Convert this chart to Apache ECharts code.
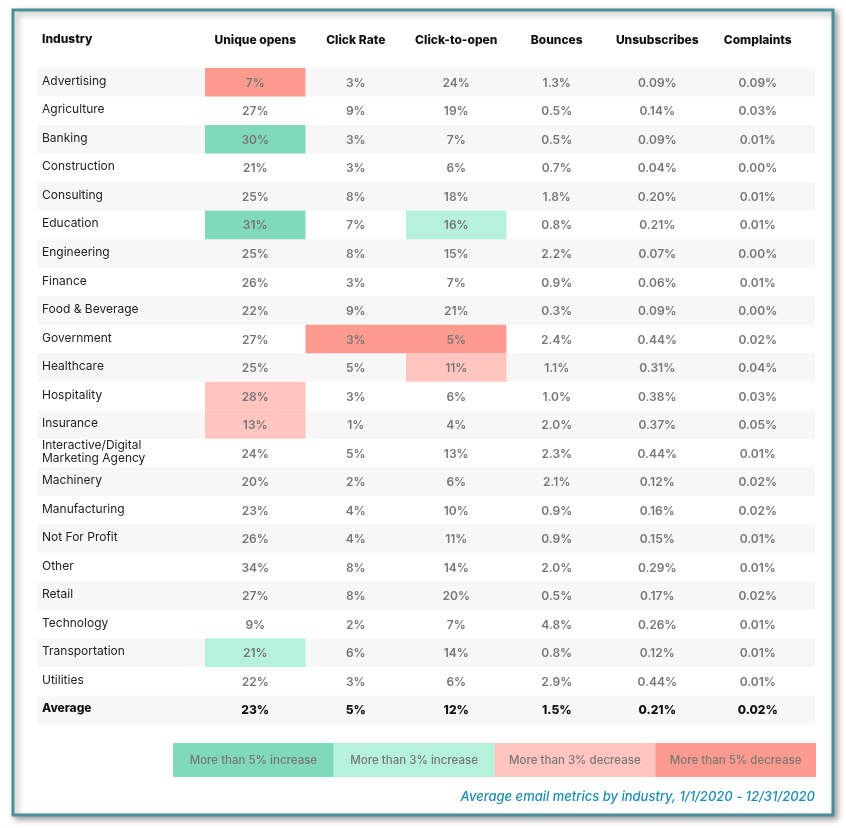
<!DOCTYPE html>
<html><head><meta charset="utf-8">
<script src="https://cdn.jsdelivr.net/npm/echarts@6/dist/echarts.min.js"></script>
<style>html,body{margin:0;padding:0;background:#fff}#c{width:846px;height:828px}</style>
</head><body><div id="c"></div>
<script>
const industries = ['Advertising','Agriculture','Banking','Construction','Consulting','Education','Engineering','Finance','Food & Beverage','Government','Healthcare','Hospitality','Insurance','Interactive/Digital\nMarketing Agency','Machinery','Manufacturing','Not For Profit','Other','Retail','Technology','Transportation','Utilities','Average'];
const columns = ['Unique opens','Click Rate','Click-to-open','Bounces','Unsubscribes','Complaints'];
const uniqueOpens  = [7,27,30,21,25,31,25,26,22,27,25,28,13,24,20,23,26,34,27,9,21,22,23];
const clickRate    = [3,9,3,3,8,7,8,3,9,3,5,3,1,5,2,4,4,8,8,2,6,3,5];
const clickToOpen  = [24,19,7,6,18,16,15,7,21,5,11,6,4,13,6,10,11,14,20,7,14,6,12];
const bounces      = [1.3,0.5,0.5,0.7,1.8,0.8,2.2,0.9,0.3,2.4,1.1,1.0,2.0,2.3,2.1,0.9,0.9,2.0,0.5,4.8,0.8,2.9,1.5];
const unsubscribes = [0.09,0.14,0.09,0.04,0.20,0.21,0.07,0.06,0.09,0.44,0.31,0.38,0.37,0.44,0.12,0.16,0.15,0.29,0.17,0.26,0.12,0.44,0.21];
const complaints   = [0.09,0.03,0.01,0.00,0.01,0.01,0.00,0.01,0.00,0.02,0.04,0.03,0.05,0.01,0.02,0.02,0.01,0.01,0.02,0.01,0.01,0.01,0.02];
const decimals = [0,0,0,1,2,2];
// highlight level: 2 = >5% increase, 1 = >3% increase, -1 = >3% decrease, -2 = >5% decrease
const highlights = [
  ['Advertising','Unique opens',-2],
  ['Banking','Unique opens',2],
  ['Education','Unique opens',2],
  ['Education','Click-to-open',1],
  ['Government','Click Rate',-2],
  ['Government','Click-to-open',-2],
  ['Healthcare','Click-to-open',-1],
  ['Hospitality','Unique opens',-1],
  ['Insurance','Unique opens',-1],
  ['Transportation','Unique opens',1]
];
const legendLabels = ['More than 5% increase','More than 3% increase','More than 3% decrease','More than 5% decrease'];
const legendLevels = [2,1,-1,-2];
const caption = 'Average email metrics by industry, 1/1/2020 - 12/31/2020';

const levelColor = {'2':'#80d9b8','1':'#b6f1dc','-1':'#ffc5be','-2':'#fe9b8e'};
const FONT = 'Inter, "Open Sans", sans-serif';
const series = [uniqueOpens, clickRate, clickToOpen, bounces, unsubscribes, complaints];

const cellData = [];
industries.forEach((ind, r) => {
  series.forEach((arr, c) => {
    const h = highlights.find(x => x[0] === ind && x[1] === columns[c]);
    cellData.push([c, r, arr[r], h ? h[2] : 0]);
  });
});
const bandData = industries.map((ind, r) => [0, r]);

const chart = echarts.init(document.getElementById('c'), null, {renderer:'canvas'});
const legendX0 = 173, legendW = 160.75;
chart.setOption({
  backgroundColor:'#fff',
  animation:false,
  grid:{left:205, right:38, top:68, bottom:104},
  xAxis:{type:'category', data:columns, position:'top',
    axisLine:{show:false}, axisTick:{show:false}, splitLine:{show:false},
    axisLabel:{interval:0, margin:22, color:'#111', fontWeight:800, fontSize:12, fontFamily:FONT}},
  yAxis:{type:'category', data:industries, inverse:true,
    axisLine:{show:false}, axisTick:{show:false}, splitLine:{show:false}, axisLabel:{show:false}},
  graphic:[
    {type:'rect', z:-100, shape:{x:13,y:10,width:820,height:805},
     style:{fill:'#fff', stroke:'#4a8f99', lineWidth:3, shadowColor:'rgba(0,0,0,0.35)', shadowBlur:6, shadowOffsetX:3, shadowOffsetY:3}},
    {type:'text', left:42, top:33, style:{text:'Industry', fill:'#111', font:'800 12px '+FONT}},
    ...legendLabels.map((t,i)=>({type:'group', children:[
      {type:'rect', shape:{x:legendX0+i*legendW, y:743, width:legendW, height:34}, style:{fill:levelColor[legendLevels[i]]}},
      {type:'text', x:legendX0+i*legendW+legendW/2, y:761, style:{text:t, fill:'#777', font:'500 11.5px '+FONT, align:'center', verticalAlign:'middle'}}
    ]})),
    {type:'text', x:815, y:797, style:{text:caption, fill:'#1f8db0', font:'italic 500 13px '+FONT, align:'right', verticalAlign:'middle'}}
  ],
  series:[
    {type:'custom', z:1, data:bandData, encode:{x:0,y:1},
     renderItem:(params, api)=>{
       const r = api.value(1);
       const p = api.coord([0, r]); const s = api.size([1,1]);
       const isAvg = industries[r] === 'Average';
       const children = [];
       if (r % 2 === 0) children.push({type:'rect', shape:{x:37, y:p[1]-s[1]/2, width:778, height:s[1]}, style:{fill:'#f7f7f7'}});
       children.push({type:'text', style:{x:42, y:p[1]-1, text:industries[r], fill:isAvg?'#111':'#222',
         font:(isAvg?'800 ':'400 ')+'12px '+FONT, lineHeight:13, align:'left', verticalAlign:'middle'}});
       return {type:'group', children};
     }},
    {type:'custom', z:2, data:cellData, encode:{x:0,y:1},
     renderItem:(params, api)=>{
       const c = api.value(0), r = api.value(1), v = api.value(2), lvl = api.value(3);
       const p = api.coord([c, r]); const s = api.size([1,1]);
       const isAvg = industries[r] === 'Average';
       const children = [];
       if (lvl) children.push({type:'rect', shape:{x:p[0]-s[0]/2, y:p[1]-s[1]/2, width:s[0], height:s[1]}, style:{fill:levelColor[lvl]}});
       children.push({type:'text', style:{x:p[0], y:p[1]+1, text:v.toFixed(decimals[c])+'%', fill:isAvg?'#111':'#777', font:(isAvg?'800 ':'600 ')+'12px '+FONT, align:'center', verticalAlign:'middle'}});
       return {type:'group', children};
     }}
  ]
});
</script></body></html>
